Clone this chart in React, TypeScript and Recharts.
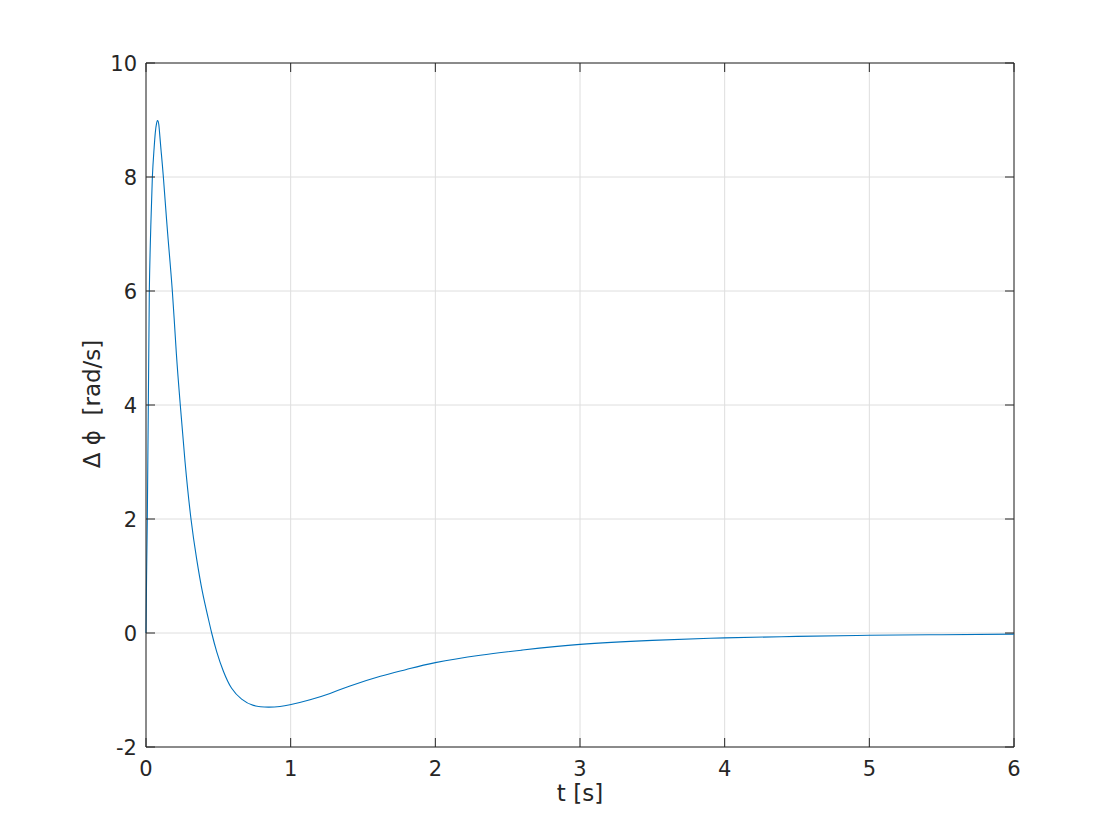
import { CartesianGrid, Line, LineChart, ReferenceLine, XAxis, YAxis } from 'recharts'

// time [s]
const times: number[] = [
  0, 0.004, 0.009, 0.016, 0.023, 0.034, 0.044, 0.055, 0.064, 0.073, 0.081, 0.088,
  0.094, 0.104, 0.12, 0.15, 0.182, 0.21, 0.237, 0.27, 0.311, 0.35, 0.39, 0.431,
  0.454, 0.489, 0.535, 0.592, 0.661, 0.742, 0.846, 0.926, 0.995, 1.134, 1.272, 1.41,
  1.62, 1.8, 2.0, 2.31, 2.6, 3.0, 3.5, 4.0, 4.5, 5.0, 5.5, 6.0,
]
// Δφ [rad/s]
const deltaPhi: number[] = [
  0, 1.0, 2.0, 4.0, 6.0, 7.2, 8.0, 8.47, 8.77, 8.94, 8.99, 8.93,
  8.77, 8.47, 8.0, 7.0, 6.0, 4.9, 4.0, 3.0, 2.0, 1.3, 0.72, 0.25,
  0, -0.33, -0.67, -0.97, -1.16, -1.27, -1.3, -1.29, -1.26, -1.17, -1.06, -0.93,
  -0.76, -0.64, -0.52, -0.39, -0.3, -0.2, -0.13, -0.085, -0.06, -0.04, -0.03, -0.02,
]
const xTicks: number[] = [0, 1, 2, 3, 4, 5, 6]
const yTicks: number[] = [-2, 0, 2, 4, 6, 8, 10]

const data = times.map((t, i) => ({ t, v: deltaPhi[i] }))

const W = 1104
const H = 824
const PLOT_LEFT = 138
const PLOT_RIGHT = 1006
const PLOT_TOP = 55
const PLOT_BOTTOM = 739
const TICK_LEN = 9

const ink = '#262626'
const font = '"DejaVu Sans", "Noto Sans", sans-serif'

const XTick = ({ x, payload }: any) => (
  <g>
    <line x1={x} x2={x} y1={PLOT_BOTTOM} y2={PLOT_BOTTOM - TICK_LEN} stroke={ink} />
    <line x1={x} x2={x} y1={PLOT_TOP} y2={PLOT_TOP + TICK_LEN} stroke={ink} />
    <text x={x} y={PLOT_BOTTOM + 29} textAnchor="middle" fill={ink} fontSize={21} fontFamily={font}>
      {payload.value}
    </text>
  </g>
)

const YTick = ({ y, payload }: any) => (
  <g>
    <line x1={PLOT_LEFT} x2={PLOT_LEFT + TICK_LEN} y1={y} y2={y} stroke={ink} />
    <line x1={PLOT_RIGHT} x2={PLOT_RIGHT - TICK_LEN} y1={y} y2={y} stroke={ink} />
    <text x={PLOT_LEFT - 9} y={y + 8} textAnchor="end" fill={ink} fontSize={21} fontFamily={font}>
      {payload.value}
    </text>
  </g>
)

const XLabel = () => (
  <text x={(PLOT_LEFT + PLOT_RIGHT) / 2} y={793} textAnchor="middle" fill={ink} fontSize={23} fontFamily={font}>
    t [s]
  </text>
)

const Y_LABEL_X = 92
const Y_LABEL_Y = 396
const YLabel = () => (
  <text
    x={Y_LABEL_X}
    y={Y_LABEL_Y}
    transform={`rotate(-90 ${Y_LABEL_X} ${Y_LABEL_Y})`}
    textAnchor="middle"
    fill={ink}
    fontSize={23}
    fontFamily={font}
    style={{ whiteSpace: 'pre' }}
  >
    {'Δ ϕ  [rad/s]'}
  </text>
)

export default function App() {
  return (
    <LineChart
      width={W}
      height={H}
      data={data}
      margin={{ top: PLOT_TOP, right: W - PLOT_RIGHT, bottom: 25, left: 0 }}
    >
      <CartesianGrid stroke="#dedede" />
      <XAxis
        dataKey="t"
        type="number"
        domain={[0, 6]}
        ticks={xTicks}
        height={60}
        axisLine={{ stroke: ink }}
        tickLine={false}
        tick={<XTick />}
        label={<XLabel />}
      />
      <YAxis
        type="number"
        domain={[-2, 10]}
        ticks={yTicks}
        width={PLOT_LEFT}
        axisLine={{ stroke: ink }}
        tickLine={false}
        tick={<YTick />}
        label={<YLabel />}
      />
      <ReferenceLine y={10} stroke={ink} />
      <ReferenceLine x={6} stroke={ink} />
      <Line
        dataKey="v"
        type="natural"
        stroke="#0072BD"
        strokeWidth={1.1}
        dot={false}
        isAnimationActive={false}
      />
    </LineChart>
  )
}
